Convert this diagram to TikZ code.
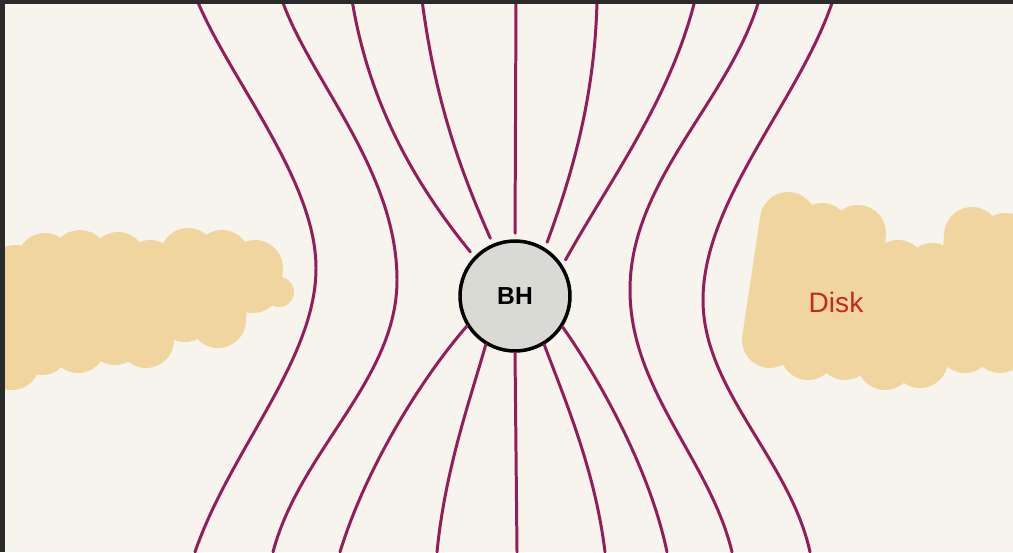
\documentclass[tikz,border=0pt]{standalone}
\usepackage{fontspec}
\setmainfont{Liberation Sans}

\definecolor{paper}{RGB}{246,244,236}
\definecolor{fieldc}{RGB}{148,28,90}
\definecolor{diskc}{RGB}{240,213,158}
\definecolor{holec}{RGB}{218,218,212}
\definecolor{labelred}{RGB}{200,40,30}
\definecolor{framec}{RGB}{43,43,43}

\tikzset{
  field/.style={draw=fieldc, line width=1.7pt, line cap=round},
  infall/.style={field, shorten >=0.12cm},
  disk/.style={draw=diskc, line width=1.12cm, line cap=round, line join=round},
  bh/.style={circle, draw=black, fill=holec, line width=2pt,
             minimum size=2.2cm, inner sep=0pt}
}

\begin{document}
\begin{tikzpicture}[x=0.02cm, y=-0.02cm]
  \useasboundingbox (0,0) rectangle (1013,552);
  \fill[paper] (0,0) rectangle (1013,552);

  % accretion disk, left and right halves
  \draw[disk] (15,273) -- (12,362) (45,261) -- (42,347) (80,258) -- (78,345)
              (118,260) -- (115,337) (150,268) -- (146,340) (188,256) -- (185,314)
              (222,258) -- (218,320) (255,268) -- (253,285);
  \fill[diskc] (279,292) circle (15);
  \draw[disk] (788,220) -- (770,340) (822,231) -- (808,352) (858,233) -- (845,352)
              (898,268) -- (885,362) (932,271) -- (920,360) (972,235) -- (965,345)
              (1005,241) -- (1000,345);
  \node[text=labelred, font=\fontsize{16}{18}\selectfont] (disk) at (836,302) {Disk};

  \node[bh, font=\bfseries\fontsize{14}{16}\selectfont] (bh) at (515,296) {BH};

  % open field lines bending round the hole
  \draw[field] (197,0) .. controls (230,80) and (316,180) .. (316,268)
               .. controls (316,360) and (230,450) .. (195,552);
  \draw[field] (282,0) .. controls (310,80) and (397,170) .. (397,280)
               .. controls (397,380) and (300,450) .. (273,552);
  \draw[field] (759,0) .. controls (730,100) and (630,180) .. (630,290)
               .. controls (630,390) and (710,460) .. (732,552);
  \draw[field] (833,0) .. controls (800,100) and (703,200) .. (703,300)
               .. controls (703,390) and (790,460) .. (810,552);

  % lines threading the hole, upper side
  \draw[infall] (352,0) .. controls (370,110) and (420,190) .. (bh.136);
  \draw[infall] (422,0) .. controls (435,100) and (460,170) .. (bh.113);
  \draw[infall] (516,0) -- (bh.90);
  \draw[infall] (597,0) .. controls (595,100) and (570,180) .. (bh.58);
  \draw[infall] (695,0) .. controls (670,100) and (610,180) .. (bh.33);

  % lower side
  \draw[field] (bh.212) .. controls (420,380) and (365,470) .. (340,552);
  \draw[field] (bh.239) .. controls (470,400) and (445,470) .. (437,552);
  \draw[field] (bh.270) -- (517,552);
  \draw[field] (bh.301) .. controls (565,400) and (595,470) .. (605,552);
  \draw[field] (bh.327) .. controls (600,380) and (650,470) .. (667,552);

  \fill[framec] (0,0) rectangle (1013,4);
  \fill[framec] (0,0) rectangle (5,552);
\end{tikzpicture}
\end{document}
